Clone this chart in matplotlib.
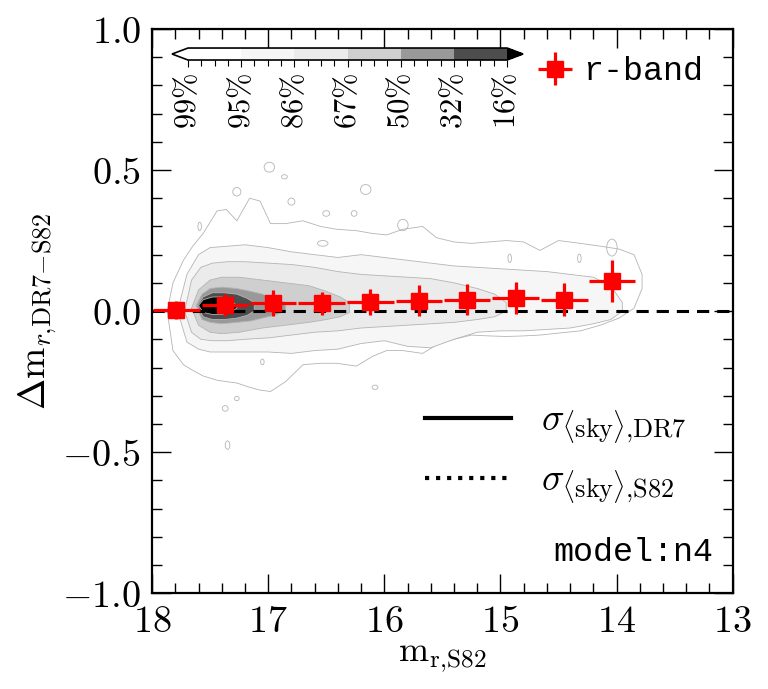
import numpy as np
import matplotlib
matplotlib.use("Agg")
import matplotlib.pyplot as plt
from matplotlib.colors import ListedColormap, BoundaryNorm
from matplotlib.cm import ScalarMappable
from matplotlib.lines import Line2D
from matplotlib.patches import Ellipse
from matplotlib.ticker import MultipleLocator, FuncFormatter

plt.rcParams["mathtext.fontset"] = "cm"
plt.rcParams["font.family"] = "DejaVu Serif"

# binned r-band offsets (red squares)
mag_bins = [17.79, 17.37, 16.96, 16.54, 16.12, 15.70, 15.29, 14.87, 14.45, 14.04]
dm_r = [0.004, 0.021, 0.027, 0.027, 0.031, 0.037, 0.041, 0.045, 0.041, 0.106]
dm_err = [0.031, 0.040, 0.046, 0.041, 0.046, 0.056, 0.055, 0.057, 0.057, 0.074]
mag_halfwidth = [0.2, 0.2, 0.2, 0.2, 0.2, 0.2, 0.2, 0.2, 0.2, 0.2]

# density contour levels (upper / lower envelope)
level_labels = ["99%", "95%", "86%", "67%", "50%", "32%", "16%"]
level_colors = ["#ffffff", "#f6f6f6", "#ebebeb", "#cfcfcf", "#999999", "#4d4d4d", "#000000"]

x99 = [17.87, 17.82, 17.73, 17.65, 17.56, 17.44, 17.36, 17.27, 17.16, 17.07, 16.98,
       16.85, 16.70, 16.55, 16.41, 16.24, 16.10, 15.98, 15.84, 15.67, 15.55, 15.40,
       15.25, 15.10, 14.95, 14.80, 14.66, 14.50, 14.31, 14.14, 13.98, 13.85, 13.78]
hi99 = [0.00, 0.10, 0.18, 0.23, 0.275, 0.355, 0.36, 0.32, 0.40, 0.39, 0.31,
        0.31, 0.32, 0.30, 0.29, 0.285, 0.275, 0.27, 0.29, 0.30, 0.26, 0.245,
        0.24, 0.245, 0.25, 0.245, 0.215, 0.25, 0.24, 0.23, 0.22, 0.20, 0.13]
lo99 = [0.00, -0.14, -0.19, -0.21, -0.23, -0.245, -0.25, -0.255, -0.27, -0.28, -0.285,
        -0.25, -0.19, -0.185, -0.185, -0.195, -0.16, -0.14, -0.14, -0.15, -0.12, -0.10,
        -0.085, -0.088, -0.09, -0.088, -0.085, -0.078, -0.07, -0.05, -0.025, 0.01, 0.08]

x95 = [17.78, 17.70, 17.60, 17.50, 17.35, 17.20, 17.00, 16.80, 16.60, 16.40, 16.20, 16.00,
       15.80, 15.60, 15.40, 15.20, 15.00, 14.80, 14.60, 14.40, 14.20, 14.05, 13.95]
hi95 = [0.00, 0.13, 0.20, 0.225, 0.23, 0.235, 0.225, 0.21, 0.20, 0.19, 0.20, 0.19,
        0.18, 0.17, 0.16, 0.155, 0.15, 0.145, 0.14, 0.13, 0.12, 0.09, 0.03]
lo95 = [0.00, -0.11, -0.135, -0.145, -0.145, -0.145, -0.145, -0.15, -0.14, -0.135, -0.115, -0.105,
        -0.125, -0.13, -0.10, -0.075, -0.07, -0.07, -0.065, -0.06, -0.045, -0.03, 0.0]

x86 = [17.72, 17.66, 17.58, 17.48, 17.35, 17.20, 17.00, 16.80, 16.60, 16.40, 16.20, 16.00,
       15.80, 15.60, 15.40, 15.20, 15.05, 14.95]
hi86 = [0.00, 0.11, 0.155, 0.17, 0.175, 0.175, 0.17, 0.165, 0.155, 0.14, 0.13, 0.125,
        0.12, 0.115, 0.10, 0.08, 0.06, 0.03]
lo86 = [0.00, -0.075, -0.10, -0.105, -0.105, -0.10, -0.095, -0.085, -0.075, -0.07, -0.06, -0.055,
        -0.05, -0.045, -0.04, -0.03, -0.02, 0.0]

x67 = [17.66, 17.60, 17.50, 17.40, 17.25, 17.05, 16.85, 16.65, 16.50, 16.38, 16.30]
hi67 = [0.01, 0.075, 0.11, 0.12, 0.12, 0.11, 0.10, 0.09, 0.07, 0.05, 0.03]
lo67 = [0.01, -0.05, -0.075, -0.08, -0.075, -0.06, -0.05, -0.04, -0.03, -0.02, -0.005]

x50 = [17.62, 17.57, 17.50, 17.40, 17.27, 17.15, 17.05, 16.95, 16.85]
hi50 = [0.02, 0.06, 0.08, 0.085, 0.08, 0.07, 0.06, 0.045, 0.03]
lo50 = [0.02, -0.03, -0.04, -0.045, -0.04, -0.035, -0.025, -0.015, 0.0]

x32 = [17.61, 17.56, 17.48, 17.38, 17.27, 17.18, 17.12]
hi32 = [0.02, 0.05, 0.065, 0.065, 0.06, 0.045, 0.03]
lo32 = [0.02, -0.02, -0.03, -0.03, -0.025, -0.015, 0.0]

x16 = [17.60, 17.56, 17.48, 17.40, 17.33, 17.27]
hi16 = [0.02, 0.04, 0.05, 0.05, 0.04, 0.02]
lo16 = [0.02, -0.005, -0.012, -0.012, -0.005, 0.01]

# small isolated outer contours
island_x = [16.99, 16.86, 17.27, 16.16, 16.80, 16.50, 16.26, 15.84, 17.59, 16.53,
            17.05, 17.27, 17.37, 17.35, 16.08, 14.92, 14.32, 14.04]
island_y = [0.51, 0.476, 0.423, 0.431, 0.388, 0.346, 0.346, 0.305, 0.30, 0.24,
            -0.18, -0.31, -0.345, -0.475, -0.27, 0.187, 0.187, 0.225]
island_w = [0.09, 0.05, 0.07, 0.09, 0.06, 0.06, 0.05, 0.09, 0.03, 0.09,
            0.03, 0.04, 0.05, 0.04, 0.05, 0.03, 0.03, 0.09]
island_h = [0.035, 0.015, 0.03, 0.035, 0.025, 0.02, 0.02, 0.04, 0.03, 0.02,
            0.02, 0.015, 0.02, 0.03, 0.015, 0.03, 0.03, 0.06]

levels = [(x99, hi99, lo99), (x95, hi95, lo95), (x86, hi86, lo86), (x67, hi67, lo67),
          (x50, hi50, lo50), (x32, hi32, lo32), (x16, hi16, lo16)]

fig = plt.figure(figsize=(7.68, 6.89), dpi=100)
ax = fig.add_axes([0.198, 0.139, 0.756, 0.819])

# filled density contours
for i, (xs, hi, lo) in enumerate(levels):
    xs = np.asarray(xs)
    hi = np.asarray(hi)
    lo = np.asarray(lo)
    ax.fill_between(xs, lo, hi, facecolor=level_colors[i], edgecolor="none", zorder=1 + 0.1 * i)
    ax.plot(np.r_[xs, xs[::-1], xs[:1]], np.r_[hi, lo[::-1], hi[:1]],
            color="#b4b4b4", lw=0.6, zorder=1.05 + 0.1 * i)

for x, y, w, h in zip(island_x, island_y, island_w, island_h):
    ax.add_patch(Ellipse((x, y), w, h, facecolor="none", edgecolor="#b4b4b4", lw=0.6, zorder=1))

ax.axhline(0, color="black", lw=2.2, linestyle=(0, (4, 2.6)), zorder=3)

eb = ax.errorbar(mag_bins, dm_r, xerr=mag_halfwidth, yerr=dm_err, fmt="s", color="red",
                 ms=11.5, elinewidth=2.3, capsize=0, zorder=4, label="r-band")

ax.set_xlim(18, 13)
ax.set_ylim(-1.0, 1.0)
ax.xaxis.set_major_locator(MultipleLocator(1))
ax.xaxis.set_minor_locator(MultipleLocator(0.2))
ax.yaxis.set_major_locator(MultipleLocator(0.5))
ax.yaxis.set_minor_locator(MultipleLocator(0.1))
ax.xaxis.set_major_formatter(FuncFormatter(lambda v, p: r"$%d$" % round(v)))
ax.yaxis.set_major_formatter(FuncFormatter(lambda v, p: r"$%.1f$" % v))
ax.tick_params(which="both", direction="in", top=True, right=True, width=1.0, labelsize=27.5)
ax.tick_params(which="major", length=14, pad=8)
ax.tick_params(which="minor", length=7)
for sp in ax.spines.values():
    sp.set_linewidth(1.6)

ax.set_xlabel(r"$\mathrm{m}_{\mathrm{r{,}S82}}$", fontsize=26, labelpad=0)
ax.set_ylabel(r"$\Delta\mathrm{m}_{r{,}\mathrm{DR7{-}S82}}$", fontsize=27, labelpad=2)

leg1 = ax.legend(handles=[eb], loc="center left", bbox_to_anchor=(0.665, 0.924),
                 frameon=False, prop={"family": "Liberation Mono", "size": 24},
                 handlelength=1.0, handletextpad=0.35, borderpad=0, borderaxespad=0)
ax.add_artist(leg1)

sky_handles = [Line2D([], [], color="black", lw=3.0, linestyle="-"),
               Line2D([], [], color="black", lw=3.0, linestyle=":")]
sky_labels = [r"$\sigma_{\langle\mathrm{sky}\rangle{,}\mathrm{DR7}}$",
              r"$\sigma_{\langle\mathrm{sky}\rangle{,}\mathrm{S82}}$"]
ax.legend(sky_handles, sky_labels, loc="center left", bbox_to_anchor=(0.47, 0.244),
          frameon=False, fontsize=27, handlelength=2.3, handletextpad=0.8,
          labelspacing=0.4, borderpad=0, borderaxespad=0)

ax.text(0.966, 0.073, "model:n4", transform=ax.transAxes, ha="right", va="center",
        family="Liberation Mono", fontsize=24)

# colorbar for the contour levels
cax = fig.add_axes([0.224, 0.9129, 0.457, 0.0174])
cmap = ListedColormap(level_colors[:-1])
cmap.set_under("#ffffff")
cmap.set_over("#000000")
bounds = np.arange(len(level_labels))
norm = BoundaryNorm(bounds, cmap.N)
sm = ScalarMappable(norm=norm, cmap=cmap)
cb = fig.colorbar(sm, cax=cax, orientation="horizontal", extend="both", ticks=bounds)
cb.outline.set_linewidth(1.2)
cb.ax.set_xticklabels([r"$%s\%%$" % s.rstrip("%") for s in level_labels], rotation=90, fontsize=22)
cb.ax.xaxis.set_minor_locator(MultipleLocator(0.25))
cb.ax.tick_params(which="major", direction="out", length=5, width=0.8, pad=4)
cb.ax.tick_params(which="minor", direction="out", length=4, width=0.8)

fig.savefig("out.png", dpi=100)
